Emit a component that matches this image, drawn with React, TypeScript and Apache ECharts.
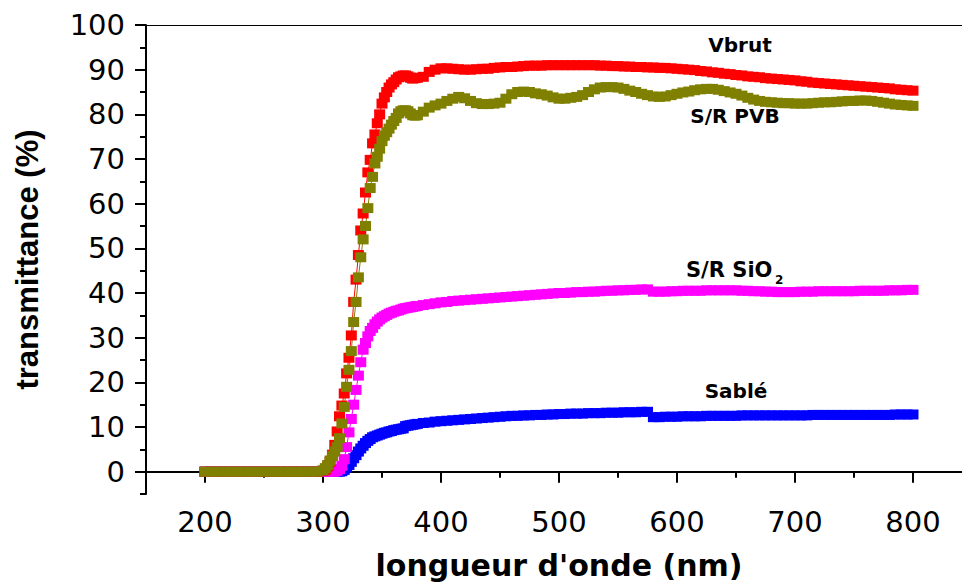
import React, { useEffect, useRef } from "react";
import * as echarts from "echarts";

const wavelength = [
  200, 205, 210, 215, 220, 225, 230, 235, 240, 245, 250, 255, 260, 265, 270, 275, 280, 285, 290, 295,
  300, 302, 304, 306, 308, 310, 312, 314, 316, 318, 320, 322, 324, 326, 328, 330, 332, 334, 336, 338,
  340, 342, 344, 346, 348, 350, 352, 354, 356, 358, 360, 362, 364, 366, 368, 370, 372, 374, 376, 378,
  380, 385, 390, 395, 400, 405, 410, 415, 420, 425, 430, 435, 440, 445, 450, 455, 460, 465, 470, 475,
  480, 485, 490, 495, 500, 505, 510, 515, 520, 525, 530, 535, 540, 545, 550, 555, 560, 565, 570, 575,
  580, 585, 590, 595, 600, 605, 610, 615, 620, 625, 630, 635, 640, 645, 650, 655, 660, 665, 670, 675,
  680, 685, 690, 695, 700, 705, 710, 715, 720, 725, 730, 735, 740, 745, 750, 755, 760, 765, 770, 775,
  780, 785, 790, 795, 800,
];

const vbrut = [
  0, 0, 0, 0, 0, 0, 0, 0, 0, 0, 0, 0, 0, 0, 0, 0, 0, 0, 0, 0,
  0.2, 0.5, 1.2, 2.2, 3.8, 6.0, 9.0, 12.4, 14.8, 17.5, 22.0, 25.5, 30.5, 38.0, 43.0, 48.5, 54.0, 57.8, 62.5, 67.0,
  69.8, 73.5, 75.5, 78.0, 80.0, 82.4, 83.8, 85.0, 86.0, 86.7, 87.2, 87.8, 88.3, 88.5, 88.7, 88.7, 88.5, 88.2, 88.0, 88.1,
  88.2, 88.4, 89.5, 90.0, 90.3, 90.3, 90.2, 90.1, 90.0, 90.0, 90.1, 90.2, 90.2, 90.4, 90.5, 90.6, 90.6, 90.7, 90.8, 90.9,
  90.9, 90.9, 91.0, 91.0, 91.0, 91.0, 91.0, 91.0, 91.0, 91.0, 91.0, 90.9, 90.9, 90.8, 90.8, 90.7, 90.7, 90.6, 90.6, 90.5,
  90.5, 90.4, 90.4, 90.3, 90.2, 90.1, 90.0, 89.9, 89.7, 89.6, 89.4, 89.3, 89.1, 89.0, 88.8, 88.7, 88.5, 88.4, 88.3, 88.1,
  88.0, 87.9, 87.8, 87.7, 87.6, 87.4, 87.3, 87.1, 87.0, 86.9, 86.8, 86.7, 86.6, 86.5, 86.4, 86.3, 86.2, 86.1, 86.0, 85.9,
  85.8, 85.6, 85.5, 85.4, 85.3,
];

const srPvb = [
  0, 0, 0, 0, 0, 0, 0, 0, 0, 0, 0, 0, 0, 0, 0, 0, 0, 0, 0, 0,
  0.3, 0.8, 1.5, 2.5, 3.5, 4.5, 5.5, 7.5, 10.8, 14.5, 19.0, 22.8, 27.0, 33.5, 38.0, 43.5, 48.0, 52.0, 55.0, 59.0,
  63.5, 66.0, 69.0, 70.5, 72.3, 74.0, 75.2, 76.0, 76.8, 77.7, 78.5, 79.2, 80.2, 80.7, 80.9, 80.9, 80.7, 80.2, 79.8, 79.7,
  79.8, 80.6, 81.5, 82.0, 82.4, 83.0, 83.5, 83.9, 83.6, 83.0, 82.5, 82.3, 82.3, 82.4, 82.6, 83.5, 84.5, 85.0, 85.1, 85.0,
  84.7, 84.5, 84.2, 83.8, 83.5, 83.5, 83.7, 83.9, 84.3, 85.0, 85.6, 86.0, 86.1, 86.1, 86.0, 85.7, 85.3, 85.0, 84.6, 84.3,
  84.0, 83.9, 84.0, 84.3, 84.6, 84.9, 85.1, 85.4, 85.6, 85.7, 85.7, 85.5, 85.2, 84.9, 84.6, 84.2, 83.7, 83.3, 83.0, 82.8,
  82.7, 82.6, 82.5, 82.5, 82.4, 82.4, 82.4, 82.5, 82.6, 82.7, 82.7, 82.8, 82.9, 83.0, 83.0, 83.1, 83.1, 83.0, 82.8, 82.6,
  82.4, 82.2, 82.1, 82.0, 81.9,
];

const srSio2 = [
  0, 0, 0, 0, 0, 0, 0, 0, 0, 0, 0, 0, 0, 0, 0, 0, 0, 0, 0, 0,
  0, 0, 0, 0, 0, 0, 0.2, 0.6, 1.3, 2.8, 5.5, 8.8, 11.8, 15.0, 18.3, 21.5, 24.5, 27.3, 28.8, 30.3,
  31.5, 32.2, 33.0, 33.6, 34.1, 34.5, 34.8, 35.1, 35.4, 35.6, 35.8, 36.0, 36.1, 36.3, 36.5, 36.6, 36.7, 36.8, 36.9, 37.0,
  37.1, 37.3, 37.5, 37.7, 37.9, 38.0, 38.2, 38.3, 38.4, 38.5, 38.6, 38.7, 38.8, 38.9, 39.0, 39.1, 39.2, 39.3, 39.4, 39.5,
  39.6, 39.7, 39.8, 39.9, 40.0, 40.0, 40.1, 40.2, 40.2, 40.3, 40.3, 40.4, 40.5, 40.5, 40.6, 40.6, 40.7, 40.7, 40.8, 40.8,
  40.3, 40.3, 40.3, 40.4, 40.4, 40.5, 40.5, 40.5, 40.5, 40.6, 40.6, 40.6, 40.6, 40.6, 40.6, 40.5, 40.5, 40.4, 40.4, 40.3,
  40.3, 40.2, 40.2, 40.2, 40.2, 40.3, 40.3, 40.3, 40.4, 40.4, 40.4, 40.4, 40.4, 40.4, 40.4, 40.5, 40.5, 40.5, 40.5, 40.5,
  40.6, 40.6, 40.6, 40.7, 40.7,
];

const sable = [
  0, 0, 0, 0, 0, 0, 0, 0, 0, 0, 0, 0, 0, 0, 0, 0, 0, 0, 0, 0,
  0, 0, 0, 0, 0, 0, 0, 0, 0.1, 0.4, 0.9, 1.5, 2.2, 3.0, 3.7, 4.5, 5.2, 5.8, 6.4, 6.9,
  7.3, 7.7, 7.9, 8.1, 8.3, 8.5, 8.7, 8.8, 9.0, 9.1, 9.3, 9.4, 9.5, 9.6, 9.7, 10.2, 10.3, 10.4, 10.5, 10.6,
  10.7, 10.9, 11.0, 11.2, 11.3, 11.4, 11.5, 11.6, 11.7, 11.8, 11.9, 12.0, 12.1, 12.2, 12.3, 12.4, 12.5, 12.5, 12.6, 12.6,
  12.7, 12.7, 12.8, 12.8, 12.9, 12.9, 13.0, 13.0, 13.0, 13.1, 13.1, 13.1, 13.2, 13.2, 13.2, 13.3, 13.3, 13.3, 13.4, 13.4,
  12.2, 12.2, 12.3, 12.3, 12.3, 12.4, 12.4, 12.4, 12.4, 12.5, 12.5, 12.5, 12.5, 12.5, 12.5, 12.6, 12.6, 12.6, 12.6, 12.6,
  12.6, 12.6, 12.6, 12.6, 12.6, 12.6, 12.6, 12.7, 12.7, 12.7, 12.7, 12.7, 12.7, 12.7, 12.7, 12.7, 12.7, 12.7, 12.7, 12.7,
  12.7, 12.8, 12.8, 12.8, 12.8,
];

const xMajorTicks = [200, 300, 400, 500, 600, 700, 800];
const xMinorTicks = [150, 250, 350, 450, 550, 650, 750, 850];
const yMajorTicks = [0, 10, 20, 30, 40, 50, 60, 70, 80, 90, 100];
const yMinorTicks = [-5, 5, 15, 25, 35, 45, 55, 65, 75, 85, 95];

const seriesDefs = [
  { name: "Sablé", values: sable, color: "#0000ff" },
  { name: "S/R SiO2", values: srSio2, color: "#ff00ff" },
  { name: "Vbrut", values: vbrut, color: "#ff0000" },
  { name: "S/R PVB", values: srPvb, color: "#808000" },
];

const TICK_FONT = "DejaVu Sans";
const LABEL_FONT = "bold 20px 'DejaVu Sans'";

export default function App() {
  const ref = useRef<HTMLDivElement>(null);

  useEffect(() => {
    if (!ref.current) return;
    const chart = echarts.init(ref.current, null, { renderer: "svg" });
    const option: any = {
      animation: false,
      backgroundColor: "#ffffff",
      grid: { left: 146, top: 25, right: -10, bottom: 88, outerBoundsMode: "none" },
      xAxis: [
        {
          type: "value",
          min: 150,
          max: 850,
          position: "bottom",
          axisLine: { show: true, lineStyle: { color: "#000", width: 2 } },
          axisTick: { show: true, customValues: xMajorTicks, length: 11, lineStyle: { color: "#000", width: 2 } },
          axisLabel: {
            show: true,
            customValues: xMajorTicks,
            margin: 13,
            color: "#000",
            fontFamily: TICK_FONT,
            fontSize: 29,
          },
          splitLine: { show: false },
          name: "longueur d'onde (nm)",
          nameLocation: "middle",
          nameGap: 56,
          nameTextStyle: { color: "#000", fontFamily: "DejaVu Sans", fontWeight: "bold", fontSize: 30 },
        },
        {
          type: "value",
          min: 150,
          max: 850,
          position: "bottom",
          axisLine: { show: false },
          axisTick: { show: true, customValues: xMinorTicks, length: 6, lineStyle: { color: "#000", width: 2 } },
          axisLabel: { show: false },
          splitLine: { show: false },
        },
        {
          type: "value",
          min: 150,
          max: 850,
          position: "top",
          axisLine: { show: true, lineStyle: { color: "#000", width: 1 } },
          axisTick: { show: false },
          axisLabel: { show: false },
          splitLine: { show: false },
        },
      ],
      yAxis: [
        {
          type: "value",
          min: -5,
          max: 100,
          position: "left",
          axisLine: { show: true, lineStyle: { color: "#000", width: 2 } },
          axisTick: { show: true, customValues: yMajorTicks, length: 11, lineStyle: { color: "#000", width: 2 } },
          axisLabel: {
            show: true,
            customValues: yMajorTicks,
            margin: 21,
            color: "#000",
            fontFamily: TICK_FONT,
            fontSize: 29,
          },
          splitLine: { show: false },
          name: "transmittance (%)",
          nameLocation: "middle",
          nameRotate: 90,
          nameGap: 103,
          nameTextStyle: { color: "#000", fontFamily: "Liberation Sans", fontWeight: "bold", fontSize: 31 },
        },
        {
          type: "value",
          min: -5,
          max: 100,
          position: "left",
          axisLine: { show: false },
          axisTick: { show: true, customValues: yMinorTicks, length: 6, lineStyle: { color: "#000", width: 2 } },
          axisLabel: { show: false },
          splitLine: { show: false },
        },
      ],
      series: seriesDefs.map((s) => ({
        name: s.name,
        type: "line",
        xAxisIndex: 0,
        yAxisIndex: 0,
        data: wavelength.map((w, i) => [w, s.values[i]]),
        symbol: "rect",
        symbolSize: [11, 10],
        showSymbol: true,
        showAllSymbol: true,
        lineStyle: { color: s.color, width: 1 },
        itemStyle: { color: s.color },
        emphasis: { disabled: true },
      })),
      graphic: [
        { type: "text", x: 740, y: 45, style: { text: "Vbrut", font: LABEL_FONT, fill: "#000", textAlign: "center", textVerticalAlign: "middle" } },
        { type: "text", x: 735, y: 116, style: { text: "S/R PVB", font: LABEL_FONT, fill: "#000", textAlign: "center", textVerticalAlign: "middle" } },
        { type: "text", x: 686, y: 270, style: { text: "S/R SiO", font: "bold 21px 'DejaVu Sans'", fill: "#000", textAlign: "left", textVerticalAlign: "middle" } },
        { type: "text", x: 775, y: 280, style: { text: "2", font: "bold 12px 'DejaVu Sans'", fill: "#000", textAlign: "left", textVerticalAlign: "middle" } },
        { type: "text", x: 736, y: 391, style: { text: "Sablé", font: LABEL_FONT, fill: "#000", textAlign: "center", textVerticalAlign: "middle" } },
      ],
    };
    chart.setOption(option);
    return () => chart.dispose();
  }, []);

  return <div ref={ref} style={{ width: 962, height: 582, position: "absolute", left: 0, top: 0 }} />;
}
